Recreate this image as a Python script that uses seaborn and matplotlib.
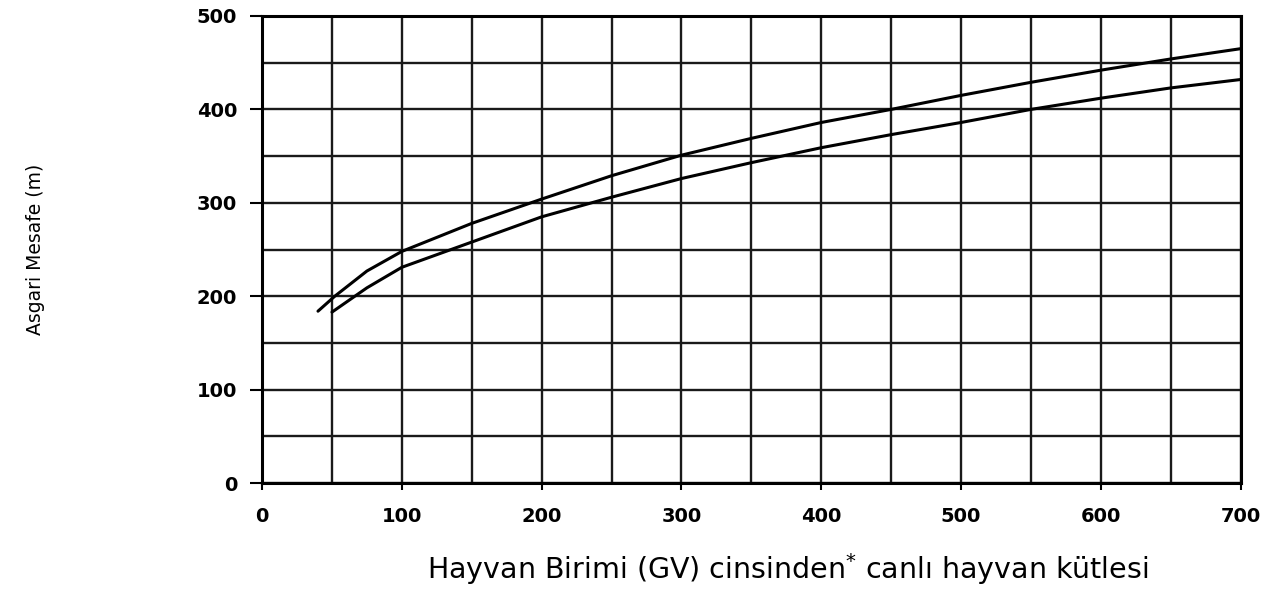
import numpy as np
import pandas as pd
import matplotlib
matplotlib.use("Agg")
import matplotlib.pyplot as plt
import seaborn as sns

# values
upper_x = [40, 52, 75, 100, 150, 200, 250, 300, 350, 400, 450, 500, 550, 600, 650, 700]
upper_y = [184, 200, 227, 248, 278, 304, 329, 351, 369, 386, 400, 415, 429, 442, 454, 465]
lower_x = [50, 75, 100, 150, 200, 250, 300, 350, 400, 450, 500, 550, 600, 650, 700]
lower_y = [183, 209, 231, 258, 285, 306, 326, 343, 359, 373, 386, 400, 412, 423, 432]

x_ticks = [0, 100, 200, 300, 400, 500, 600, 700]
y_ticks = [0, 100, 200, 300, 400, 500]

sns.set_style("ticks")
plt.rcParams['font.family'] = ['DejaVu Sans']
plt.rcParams['text.color'] = 'black'

fig = plt.figure(figsize=(12.66, 5.92), dpi=100)
ax = fig.add_axes([0.207, 0.184, 0.773, 0.789])

df_up = pd.DataFrame({"x": upper_x, "y": upper_y})
df_lo = pd.DataFrame({"x": lower_x, "y": lower_y})
sns.lineplot(data=df_up, x="x", y="y", ax=ax, color="black", lw=2.2, sort=True)
sns.lineplot(data=df_lo, x="x", y="y", ax=ax, color="black", lw=2.2, sort=True)

# grid every 50 in both directions
ax.set_xticks(np.arange(0, 701, 50), minor=True)
ax.set_yticks(np.arange(0, 501, 50), minor=True)
ax.grid(which="both", color="#1a1a1a", lw=1.7)
ax.tick_params(which="minor", length=0)

ax.set_xlim(0, 700)
ax.set_ylim(0, 500)
ax.set_xticks(x_ticks)
ax.set_yticks(y_ticks)
ax.set_xticklabels([str(v) for v in x_ticks], fontsize=14, fontweight="bold", color="black")
ax.set_yticklabels([str(v) for v in y_ticks], fontsize=14, fontweight="bold", color="black")
ax.tick_params(axis="y", which="major", length=9, width=1.5, pad=9, color="black")
ax.tick_params(axis="x", which="major", length=5, width=1.5, pad=12, color="black")

for side in ["left", "bottom", "top", "right"]:
    ax.spines[side].set_color("black")
    ax.spines[side].set_linewidth(2.2)

ax.set_xlabel("")
ax.set_ylabel("")
fig.text(0.028, 0.578, "Asgari Mesafe (m)", rotation=90, ha="center", va="center", fontsize=13.5)
fig.text(0.622, 0.038, "Hayvan Birimi (GV) cinsinden$^{*}$ canlı hayvan kütlesi",
         ha="center", va="center", fontsize=20.5)

fig.savefig("out.png", dpi=100)
